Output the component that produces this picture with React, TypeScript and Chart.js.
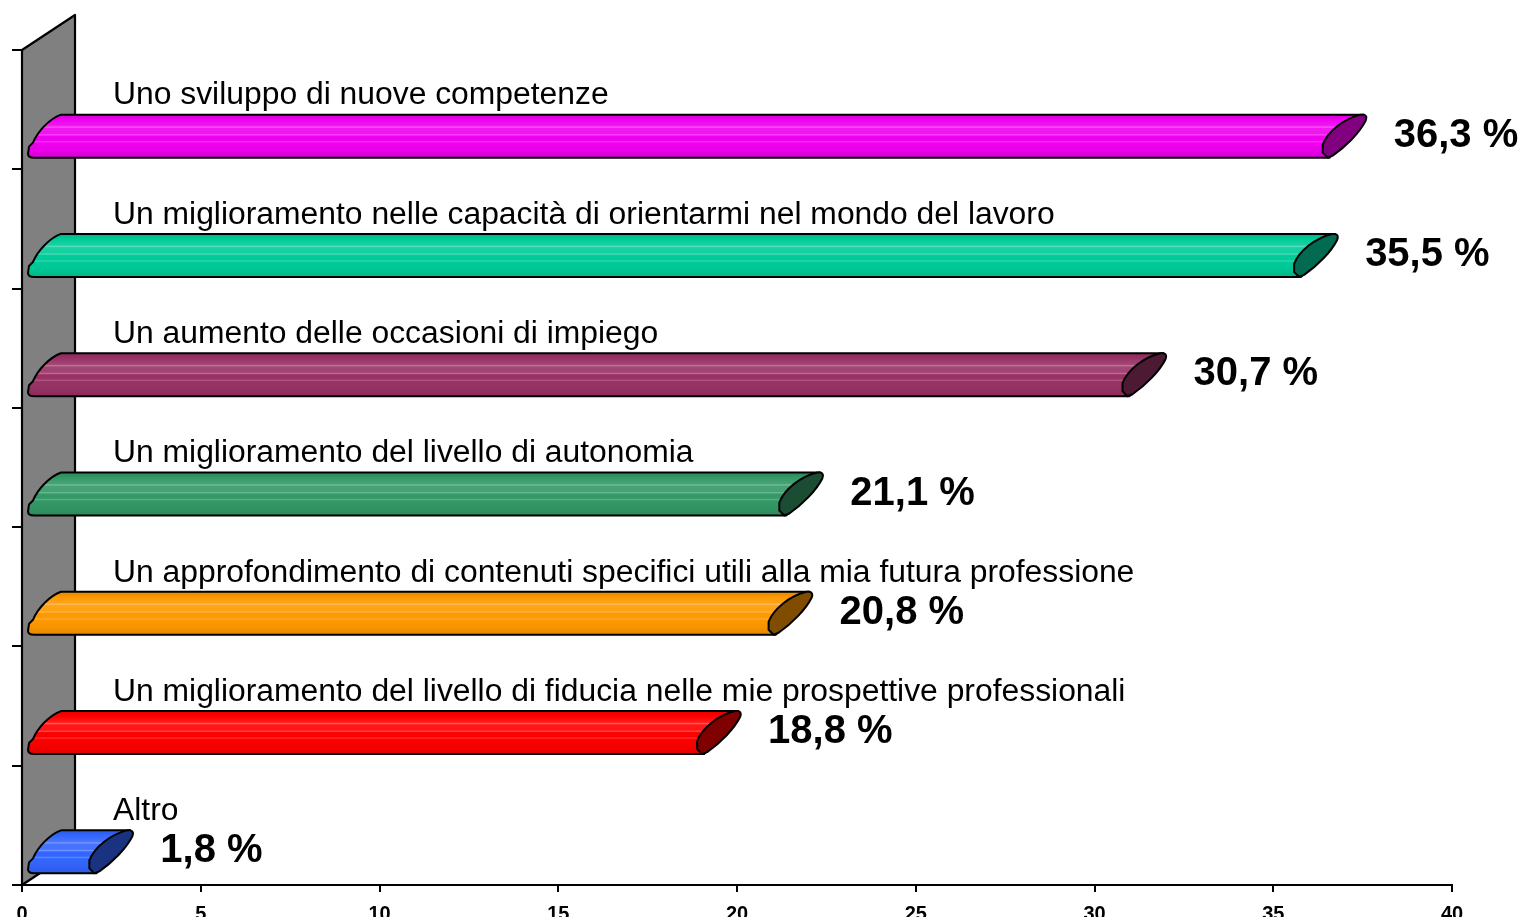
import React, { useEffect, useRef } from "react";
import { Chart, registerables } from "chart.js";

Chart.register(...registerables);

const categories = [
  "Uno sviluppo di nuove competenze",
  "Un miglioramento nelle capacità di orientarmi nel mondo del lavoro",
  "Un aumento delle occasioni di impiego",
  "Un miglioramento del livello di autonomia",
  "Un approfondimento di contenuti specifici utili alla mia futura professione",
  "Un miglioramento del livello di fiducia nelle mie prospettive professionali",
  "Altro",
];
const values = [36.3, 35.5, 30.7, 21.1, 20.8, 18.8, 1.8];
const valueLabels = ["36,3 %", "35,5 %", "30,7 %", "21,1 %", "20,8 %", "18,8 %", "1,8 %"];
const faceColors = ["#F000F0", "#00CC99", "#993366", "#339966", "#FF9900", "#FF0000", "#3366FF"];
const capColors = ["#800080", "#006B50", "#4D1A33", "#1A4D33", "#804D00", "#800000", "#1A3380"];
const xMin = 0;
const xMax = 40;
const xStep = 5;

function mix(hex: string, target: number, amt: number): string {
  const n = parseInt(hex.slice(1), 16);
  const r = (n >> 16) & 255, g = (n >> 8) & 255, b = n & 255;
  const f = (c: number) => Math.round(c + (target - c) * amt);
  return `rgb(${f(r)},${f(g)},${f(b)})`;
}
const lighten = (h: string, a: number) => mix(h, 255, a);
const darken = (h: string, a: number) => mix(h, 0, a);

const bars3d = {
  id: "bars3d",
  beforeDatasetsDraw(chart: any) {
    const { ctx, chartArea } = chart;
    const { left, top, bottom } = chartArea;
    ctx.save();
    ctx.beginPath();
    ctx.moveTo(left, top);
    ctx.lineTo(left + 53, top - 35);
    ctx.lineTo(left + 53, bottom - 35);
    ctx.lineTo(left, bottom);
    ctx.closePath();
    ctx.fillStyle = "#808080";
    ctx.fill();
    ctx.lineWidth = 2.2;
    ctx.strokeStyle = "#000";
    ctx.lineJoin = "round";
    ctx.stroke();
    ctx.restore();
  },
  afterDatasetsDraw(chart: any) {
    const { ctx } = chart;
    const meta = chart.getDatasetMeta(0);
    meta.data.forEach((el: any, i: number) => {
      const { x, y, base } = el.getProps(["x", "y", "base"], true);
      const X = x + 8;
      const yTop = y + 5;
      const yBot = y + 48;
      const L = base + 5;
      const c = faceColors[i];
      ctx.save();
      ctx.lineWidth = 2;
      ctx.strokeStyle = "#000";
      ctx.lineJoin = "round";
      // front face
      const g = ctx.createLinearGradient(0, yTop, 0, yBot);
      g.addColorStop(0, darken(c, 0.12));
      g.addColorStop(0.12, c);
      g.addColorStop(0.26, lighten(c, 0.1));
      g.addColorStop(0.29, lighten(c, 0.35));
      g.addColorStop(0.32, lighten(c, 0.1));
      g.addColorStop(0.44, lighten(c, 0.08));
      g.addColorStop(0.47, lighten(c, 0.3));
      g.addColorStop(0.5, c);
      g.addColorStop(0.6, c);
      g.addColorStop(0.63, lighten(c, 0.2));
      g.addColorStop(0.66, c);
      g.addColorStop(0.85, darken(c, 0.04));
      g.addColorStop(1, darken(c, 0.12));
      ctx.beginPath();
      ctx.moveTo(L + 6, yBot);
      ctx.lineTo(X + 2, yBot);
      ctx.lineTo(X + 36, yTop);
      ctx.lineTo(L + 33, yTop);
      ctx.bezierCurveTo(L + 22, yTop + 4, L + 10, yTop + 16, L + 5, yTop + 28);
      ctx.lineTo(L + 1, yTop + 32);
      ctx.lineTo(L, yBot - 4);
      ctx.quadraticCurveTo(L, yBot, L + 6, yBot);
      ctx.closePath();
      ctx.fillStyle = g;
      ctx.fill();
      ctx.stroke();
      // end cap
      ctx.beginPath();
      ctx.moveTo(X, yBot);
      ctx.lineTo(X - 5, yBot - 5);
      ctx.lineTo(X - 5, yBot - 13);
      ctx.bezierCurveTo(X, yBot - 26, X + 16, yTop + 4, X + 33, yTop);
      ctx.lineTo(X + 36, yTop);
      ctx.quadraticCurveTo(X + 40, yTop + 1, X + 38, yTop + 6);
      ctx.bezierCurveTo(X + 32, yTop + 18, X + 18, yTop + 32, X + 5, yBot - 2);
      ctx.lineTo(X, yBot);
      ctx.closePath();
      ctx.fillStyle = capColors[i];
      ctx.fill();
      ctx.stroke();
      // labels
      ctx.fillStyle = "#000";
      ctx.textBaseline = "middle";
      ctx.textAlign = "left";
      ctx.font = '31.85px "Liberation Sans", Arial, sans-serif';
      ctx.fillText(categories[i], base + 90, yTop - 19);
      ctx.font = 'bold 40px "Liberation Sans", Arial, sans-serif';
      ctx.fillText(valueLabels[i], X + 66, yTop + 21);
      ctx.restore();
    });
  },
};

export default function App() {
  const ref = useRef<HTMLCanvasElement | null>(null);
  useEffect(() => {
    if (!ref.current) return;
    const chart = new Chart(ref.current, {
      type: "bar",
      data: {
        labels: categories,
        datasets: [
          {
            data: values,
            backgroundColor: "rgba(0,0,0,0)",
            borderWidth: 0,
            barPercentage: 0.4,
            categoryPercentage: 1,
          },
        ],
      },
      options: {
        indexAxis: "y",
        animation: false,
        responsive: false,
        events: [],
        layout: { padding: { top: 50, right: 71, left: 0, bottom: 0 } },
        plugins: { legend: { display: false }, tooltip: { enabled: false } },
        scales: {
          x: {
            min: xMin,
            max: xMax,
            ticks: {
              stepSize: xStep,
              color: "#000",
              padding: 10,
              maxRotation: 0,
              autoSkip: false,
              font: { family: '"Liberation Sans", Arial, sans-serif', size: 20, weight: "bold" },
            },
            grid: { drawOnChartArea: false, drawTicks: true, tickLength: 7, color: "#000", lineWidth: 2 },
            border: { display: true, color: "#000", width: 2 },
            afterFit: (s: any) => {
              s.height = 32;
            },
          },
          y: {
            ticks: { display: false },
            grid: { offset: true, drawOnChartArea: false, drawTicks: true, tickLength: 10, color: "#000", lineWidth: 2 },
            border: { display: true, color: "#000", width: 2 },
            afterFit: (s: any) => {
              s.width = 22;
            },
          },
        },
      },
      plugins: [bars3d],
    } as any);
    return () => chart.destroy();
  }, []);
  return (
    <div style={{ position: "fixed", left: 0, top: 0, width: 1523, height: 917, background: "#fff" }}>
      <canvas ref={ref} width={1523} height={917} style={{ width: 1523, height: 917 }} />
    </div>
  );
}
